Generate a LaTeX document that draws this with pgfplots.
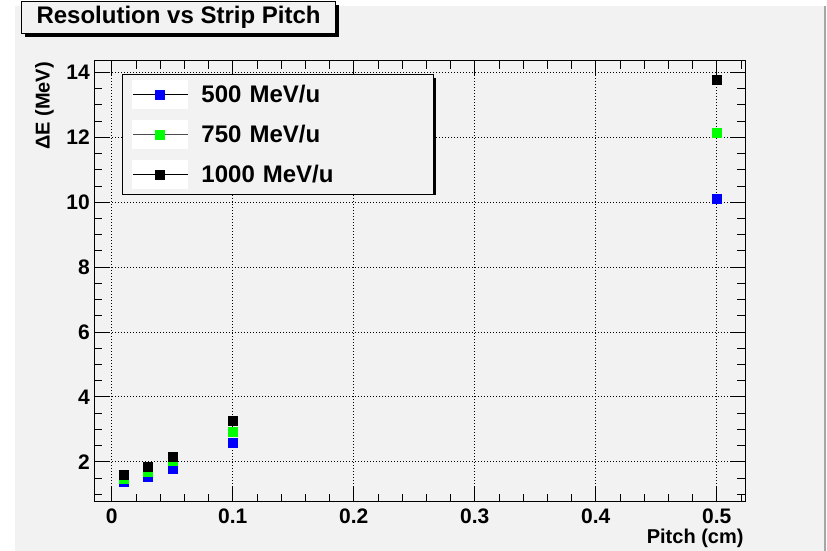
\documentclass[border=0pt]{standalone}
\usepackage{fontspec}
\setmainfont{Liberation Sans}
\usepackage{pgfplots}
\pgfplotsset{compat=1.18}
\usetikzlibrary{shadows}
\definecolor{rootbg}{HTML}{F2F2F2}
\definecolor{rootgreen}{RGB}{0,255,0}
\definecolor{rootblue}{RGB}{0,0,255}
\begin{document}
\begin{tikzpicture}
\fill[white] (0,0) rectangle (827pt,551pt);
\fill[rootbg] (15pt,0) rectangle (824pt,545pt);
\fill[black!35] (824pt,0) rectangle (826pt,545pt);
\begin{axis}[
  scale only axis, width=651pt, height=441pt,
  at={(94pt,49pt)}, anchor=south west,
  xmin=-0.0147, xmax=0.5233, ymin=0.76, ymax=14.35,
  axis background/.style={fill=rootbg},
  axis line style={black, line width=1pt},
  xtick={0,0.1,0.2,0.3,0.4,0.5}, xticklabels={0,0.1,0.2,0.3,0.4,0.5},
  ytick={2,4,6,8,10,12,14}, yticklabels={2,4,6,8,10,12,14},
  minor xtick={0.02,0.04,0.06,0.08,0.12,0.14,0.16,0.18,0.22,0.24,0.26,0.28,0.32,0.34,0.36,0.38,0.42,0.44,0.46,0.48,0.52},
  minor ytick={1,1.5,2.5,3,3.5,4.5,5,5.5,6.5,7,7.5,8.5,9,9.5,10.5,11,11.5,12.5,13,13.5},
  tick align=inside, major tick length=15pt, minor tick length=8pt,
  tick style={black, line width=0.8pt},
  xmajorgrids, ymajorgrids,
  major grid style={black, line width=0.9pt, dash pattern=on 1pt off 2pt},
  xticklabel style={font=\fontsize{21}{24}\selectfont\bfseries, anchor=north, inner sep=0pt, yshift=-6.5pt},
  yticklabel style={font=\fontsize{21}{24}\selectfont\bfseries, anchor=east, inner sep=0pt, xshift=-4pt},
  xlabel={Pitch (cm)},
  ylabel={ΔE (MeV)},
  every axis x label/.style={at={(axis description cs:0.998,-0.093)}, anchor=base east, inner sep=0pt, font=\fontsize{20}{24}\selectfont\bfseries},
  every axis y label/.style={at={(axis description cs:-0.068,0.998)}, rotate=90, anchor=base east, inner sep=0pt, font=\fontsize{20}{24}\selectfont\bfseries},
  title={Resolution vs Strip Pitch},
  title style={at={(axis description cs:-0.1121,1.1224)}, anchor=north west, draw=black, line width=1pt, fill=rootbg, inner xsep=15pt, inner ysep=0pt, minimum height=32pt, font=\fontsize{24}{28}\selectfont\bfseries, drop shadow={shadow xshift=3pt, shadow yshift=-3pt, fill=black, opacity=1}},
  legend cell align=left,
  legend style={at={(axis description cs:0.043,0.9705)}, anchor=north west, draw=black, line width=1pt, fill=rootbg, inner xsep=10pt, inner ysep=5.5pt, row sep=11pt, column sep=13pt, font=\fontsize{24}{28}\selectfont\bfseries, nodes={inner sep=0pt, text width=222pt}},
]
\fill[black] (axis description cs:0.0492,0.6961) rectangle (axis description cs:0.5253,0.9615);
\addplot[only marks, mark=square*, mark size=4.5pt, color=rootblue,
  legend image code/.code={\fill[white] (0pt,-14pt) rectangle (55pt,14pt); \draw[black,line width=0.8pt] (0pt,0pt)--(55pt,0pt); \fill[rootblue] (23pt,-4.5pt) rectangle (32pt,4.5pt);}]
  coordinates {(0.01,1.38) (0.03,1.55) (0.05,1.78) (0.1,2.59) (0.5,10.12)};
\addlegendentry{500 MeV/u}
\addplot[only marks, mark=square*, mark size=4.5pt, color=rootgreen,
  legend image code/.code={\fill[white] (0pt,-14pt) rectangle (55pt,14pt); \draw[black!70,line width=0.8pt] (0pt,0pt)--(55pt,0pt); \fill[rootgreen] (23pt,-4.5pt) rectangle (32pt,4.5pt);}]
  coordinates {(0.01,1.49) (0.03,1.69) (0.05,2.02) (0.1,2.94) (0.5,12.15)};
\addlegendentry{750 MeV/u}
\addplot[only marks, mark=square*, mark size=4.5pt, color=black,
  legend image code/.code={\fill[white] (0pt,-14pt) rectangle (55pt,14pt); \draw[black,line width=0.8pt] (0pt,0pt)--(55pt,0pt); \fill[black] (23pt,-4.5pt) rectangle (32pt,4.5pt);}]
  coordinates {(0.01,1.61) (0.03,1.84) (0.05,2.15) (0.1,3.26) (0.5,13.76)};
\addlegendentry{1000 MeV/u}
\end{axis}
\end{tikzpicture}
\end{document}
